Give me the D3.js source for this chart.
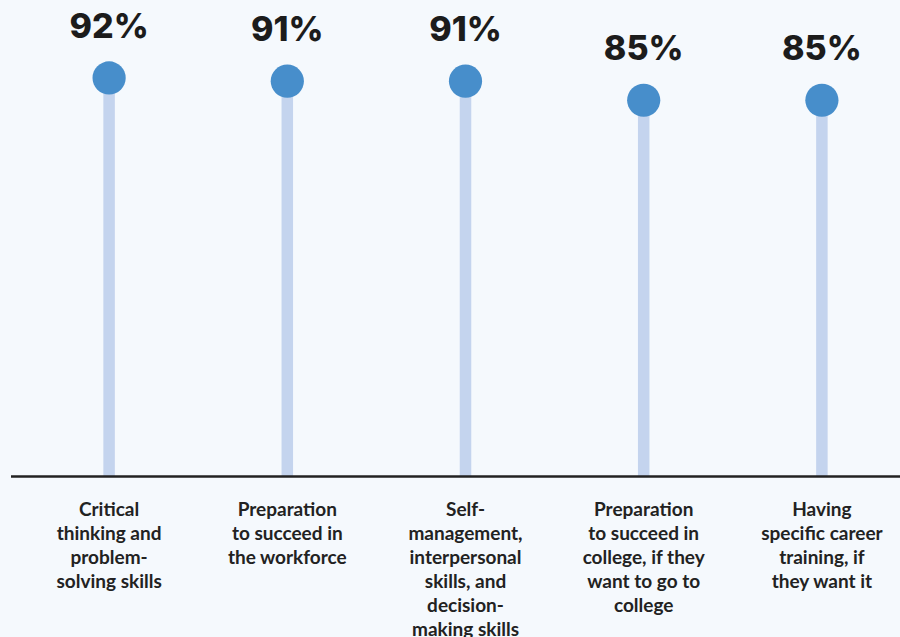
<!DOCTYPE html>
<html>
<head>
<meta charset="utf-8">
<script src="https://cdn.jsdelivr.net/npm/d3@7/dist/d3.min.js"></script>
<style>
  html, body { margin: 0; padding: 0; background: #f5f9fd; }
  svg { display: block; }
</style>
</head>
<body>
<svg id="chart" width="900" height="637"></svg>
<script>
// Category labels, each broken into its printed lines
const categories = [
  ["Critical", "thinking and", "problem-", "solving skills"],
  ["Preparation", "to succeed in", "the workforce"],
  ["Self-", "management,", "interpersonal", "skills, and", "decision-", "making skills"],
  ["Preparation", "to succeed in", "college, if they", "want to go to", "college"],
  ["Having", "specific career", "training, if", "they want it"]
];
// Share of respondents (%)
const values = [92, 91, 91, 85, 85];

const W = 900, H = 637;
const baseY = 476;

const svg = d3.select("#chart");

const keys = categories.map((c, i) => "c" + i);
const x = d3.scaleBand().domain(keys).range([20, 911]).padding(0);
const y = d3.scaleLinear().domain([-33, 100]).range([baseY, 52.5]);

const data = values.map((v, i) => ({ key: keys[i], value: v, lines: categories[i] }));
const cx = d => x(d.key) + x.bandwidth() / 2;

// stems
svg.append("g").selectAll("line")
  .data(data).join("line")
  .attr("x1", cx).attr("x2", cx)
  .attr("y1", baseY).attr("y2", d => y(d.value))
  .attr("stroke", "#c4d4ee")
  .attr("stroke-width", 11.5);

// baseline
svg.append("line")
  .attr("x1", 11).attr("x2", W)
  .attr("y1", baseY + 0.5).attr("y2", baseY + 0.5)
  .attr("stroke", "#222222")
  .attr("stroke-width", 2.6);

// dots
svg.append("g").selectAll("circle")
  .data(data).join("circle")
  .attr("cx", cx)
  .attr("cy", d => y(d.value))
  .attr("r", 16.6)
  .attr("fill", "#478ecb");

// value labels
svg.append("g").selectAll("text")
  .data(data).join("text")
  .attr("x", cx)
  .attr("y", d => y(d.value) - 40)
  .attr("text-anchor", "middle")
  .attr("font-family", "Inter, 'Noto Sans', sans-serif")
  .attr("font-weight", 800)
  .attr("font-size", 34)
  .attr("fill", "#1c1c1c")
  .text(d => d.value + "%");

// category labels
const cat = svg.append("g").selectAll("text")
  .data(data).join("text")
  .attr("text-anchor", "middle")
  .attr("font-family", "Lato, 'Open Sans', sans-serif")
  .attr("font-weight", 700)
  .attr("font-size", 19)
  .attr("fill", "#222222");

cat.selectAll("tspan")
  .data(d => d.lines.map(l => ({ l, x: cx(d) })))
  .join("tspan")
  .attr("x", t => t.x)
  .attr("y", (t, i) => 516 + i * 24)
  .text(t => t.l);
</script>
</body>
</html>
